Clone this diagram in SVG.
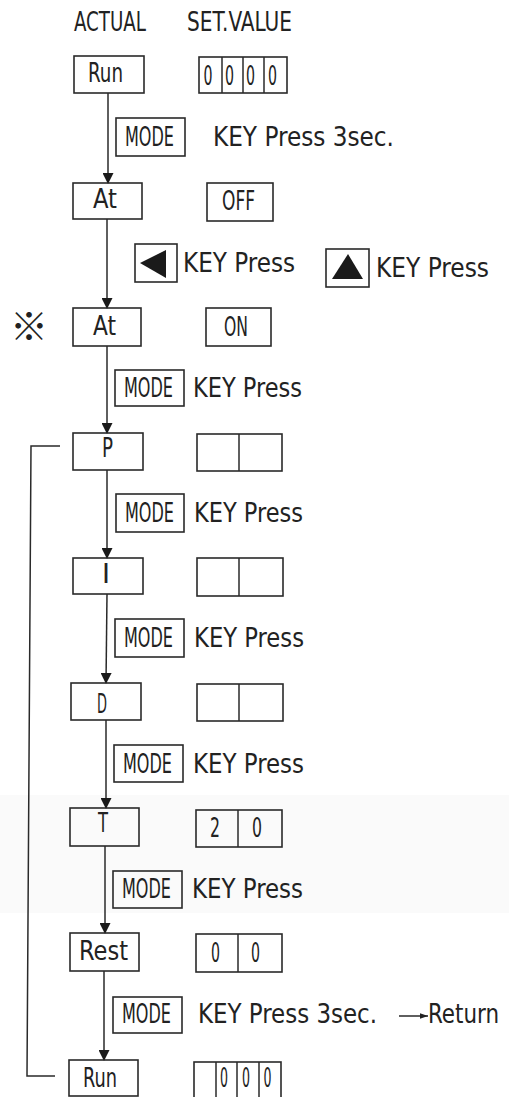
<svg xmlns="http://www.w3.org/2000/svg" width="509" height="1097" viewBox="0 0 509 1097">
<defs>
<style>
.bx{fill:none;stroke:#2a2a2a;stroke-width:1.6}
.ln{fill:none;stroke:#2a2a2a;stroke-width:1.5}
.t{font-family:"DejaVu Sans","Liberation Sans",sans-serif;font-stretch:condensed;font-size:26px;fill:#222}
.c{text-anchor:middle}
.tri{fill:#1a1a1a}
</style>
<marker id="ah" markerUnits="userSpaceOnUse" markerWidth="11" markerHeight="11" refX="10" refY="5.5" orient="auto">
<path d="M0,0 L11,5.5 L0,11 z" fill="#1a1a1a"/>
</marker>
<marker id="ahs" markerUnits="userSpaceOnUse" markerWidth="9" markerHeight="7" refX="8.5" refY="3.5" orient="auto">
<path d="M0,0.5 L8.5,3.5 L0,6.5 z" fill="#222"/>
</marker>
</defs>
<rect x="0" y="0" width="509" height="1097" fill="#ffffff"/>
<rect x="0" y="795" width="509" height="118" fill="#fafafa"/>

<g id="headers">
<text class="t" x="74" y="31" textLength="72" lengthAdjust="spacingAndGlyphs">ACTUAL</text>
<text class="t" x="187" y="31" textLength="105" lengthAdjust="spacingAndGlyphs">SET.VALUE</text>
</g>

<g id="connectors">
<line class="ln" x1="108" y1="93" x2="108" y2="183" marker-end="url(#ah)"/>
<line class="ln" x1="107" y1="219" x2="107" y2="308" marker-end="url(#ah)"/>
<line class="ln" x1="107" y1="346" x2="107" y2="433" marker-end="url(#ah)"/>
<line class="ln" x1="107" y1="470" x2="107" y2="558" marker-end="url(#ah)"/>
<line class="ln" x1="107" y1="594" x2="106" y2="683" marker-end="url(#ah)"/>
<line class="ln" x1="106" y1="720" x2="106" y2="808" marker-end="url(#ah)"/>
<line class="ln" x1="105" y1="846" x2="105" y2="933" marker-end="url(#ah)"/>
<line class="ln" x1="104" y1="971" x2="104" y2="1060" marker-end="url(#ah)"/>
<polyline class="ln" points="60,446 31,446 27,1076 55,1076"/>
<line class="ln" x1="399" y1="1016" x2="428" y2="1016" marker-end="url(#ahs)"/>
</g>

<g id="run1">
<rect class="bx" x="74" y="56" width="70" height="37"/>
<text class="t" x="88" y="82" textLength="35" lengthAdjust="spacingAndGlyphs">Run</text>
</g>
<g id="val-run1">
<rect class="bx" x="199" y="57" width="88" height="36"/>
<line class="ln" x1="222" y1="57" x2="222" y2="93"/>
<line class="ln" x1="243" y1="57" x2="243" y2="93"/>
<line class="ln" x1="264" y1="57" x2="264" y2="93"/>
<text class="t c" x="208" y="85" textLength="9" lengthAdjust="spacingAndGlyphs">0</text>
<text class="t c" x="229.5" y="85" textLength="9" lengthAdjust="spacingAndGlyphs">0</text>
<text class="t c" x="250.5" y="85" textLength="9" lengthAdjust="spacingAndGlyphs">0</text>
<text class="t c" x="272.5" y="85" textLength="9" lengthAdjust="spacingAndGlyphs">0</text>
</g>
<g id="key1">
<rect class="bx" x="116" y="118" width="69" height="38"/>
<text class="t" x="125" y="146" textLength="49" lengthAdjust="spacingAndGlyphs">MODE</text>
<text class="t" x="213" y="146" textLength="181" lengthAdjust="spacingAndGlyphs">KEY Press 3sec.</text>
</g>

<g id="at1">
<rect class="bx" x="73" y="183" width="69" height="36"/>
<text class="t" x="93" y="208" textLength="24" lengthAdjust="spacingAndGlyphs">At</text>
</g>
<g id="val-off">
<rect class="bx" x="207" y="183" width="66" height="38"/>
<text class="t" x="222" y="210" textLength="33" lengthAdjust="spacingAndGlyphs">OFF</text>
</g>
<g id="key-left">
<rect class="bx" x="135" y="244" width="42" height="38"/>
<polygon class="tri" points="140,263 166,250 166,278"/>
<text class="t" x="183" y="272" textLength="112" lengthAdjust="spacingAndGlyphs">KEY Press</text>
</g>
<g id="key-up">
<rect class="bx" x="326" y="249" width="43" height="38"/>
<polygon class="tri" points="332,279 363,279 348,254"/>
<text class="t" x="376" y="277" textLength="113" lengthAdjust="spacingAndGlyphs">KEY Press</text>
</g>

<g id="note">
<text x="29" y="340" text-anchor="middle" font-family="Noto Sans CJK JP, sans-serif" font-size="38" fill="#222">※</text>
</g>
<g id="at2">
<rect class="bx" x="73" y="308" width="68" height="38"/>
<text class="t" x="93" y="335" textLength="23" lengthAdjust="spacingAndGlyphs">At</text>
</g>
<g id="val-on">
<rect class="bx" x="206" y="308" width="65" height="38"/>
<text class="t" x="224" y="336" textLength="24" lengthAdjust="spacingAndGlyphs">ON</text>
</g>
<g id="key2">
<rect class="bx" x="115" y="370" width="69" height="36"/>
<text class="t" x="124" y="397" textLength="49" lengthAdjust="spacingAndGlyphs">MODE</text>
<text class="t" x="193" y="397" textLength="109" lengthAdjust="spacingAndGlyphs">KEY Press</text>
</g>

<g id="p">
<rect class="bx" x="73" y="433" width="70" height="37"/>
<text class="t c" x="107.5" y="457" textLength="11" lengthAdjust="spacingAndGlyphs">P</text>
</g>
<g id="val-p">
<rect class="bx" x="197" y="434" width="85" height="37"/>
<line class="ln" x1="239" y1="434" x2="239" y2="471"/>
</g>
<g id="key3">
<rect class="bx" x="116" y="494" width="68" height="38"/>
<text class="t" x="125" y="522" textLength="49" lengthAdjust="spacingAndGlyphs">MODE</text>
<text class="t" x="194" y="522" textLength="109" lengthAdjust="spacingAndGlyphs">KEY Press</text>
</g>

<g id="i">
<rect class="bx" x="73" y="558" width="70" height="36"/>
<text class="t c" x="106" y="583" textLength="8" lengthAdjust="spacingAndGlyphs">I</text>
</g>
<g id="val-i">
<rect class="bx" x="197" y="558" width="86" height="38"/>
<line class="ln" x1="239" y1="558" x2="239" y2="596"/>
</g>
<g id="key4">
<rect class="bx" x="115" y="619" width="69" height="38"/>
<text class="t" x="124" y="647" textLength="49" lengthAdjust="spacingAndGlyphs">MODE</text>
<text class="t" x="194" y="647" textLength="110" lengthAdjust="spacingAndGlyphs">KEY Press</text>
</g>

<g id="d">
<rect class="bx" x="71" y="683" width="70" height="37"/>
<text class="t c" x="102" y="713" textLength="10" lengthAdjust="spacingAndGlyphs">D</text>
</g>
<g id="val-d">
<rect class="bx" x="197" y="684" width="86" height="37"/>
<line class="ln" x1="239" y1="684" x2="239" y2="721"/>
</g>
<g id="key5">
<rect class="bx" x="114" y="745" width="69" height="37"/>
<text class="t" x="123" y="773" textLength="49" lengthAdjust="spacingAndGlyphs">MODE</text>
<text class="t" x="193" y="773" textLength="111" lengthAdjust="spacingAndGlyphs">KEY Press</text>
</g>

<g id="t">
<rect class="bx" x="70" y="808" width="69" height="38"/>
<text class="t c" x="103" y="832" textLength="10" lengthAdjust="spacingAndGlyphs">T</text>
</g>
<g id="val-t">
<rect class="bx" x="196" y="810" width="86" height="37"/>
<line class="ln" x1="238" y1="810" x2="238" y2="847"/>
<text class="t c" x="215" y="837" textLength="10" lengthAdjust="spacingAndGlyphs">2</text>
<text class="t c" x="257" y="837" textLength="10" lengthAdjust="spacingAndGlyphs">0</text>
</g>
<g id="key6">
<rect class="bx" x="113" y="871" width="69" height="37"/>
<text class="t" x="122" y="898" textLength="49" lengthAdjust="spacingAndGlyphs">MODE</text>
<text class="t" x="192" y="898" textLength="111" lengthAdjust="spacingAndGlyphs">KEY Press</text>
</g>

<g id="rest">
<rect class="bx" x="70" y="933" width="69" height="38"/>
<text class="t" x="79" y="960" textLength="49" lengthAdjust="spacingAndGlyphs">Rest</text>
</g>
<g id="val-rest">
<rect class="bx" x="196" y="934" width="86" height="38"/>
<line class="ln" x1="238" y1="934" x2="238" y2="972"/>
<text class="t c" x="215.5" y="962" textLength="9" lengthAdjust="spacingAndGlyphs">0</text>
<text class="t c" x="255.5" y="962" textLength="9" lengthAdjust="spacingAndGlyphs">0</text>
</g>
<g id="key7">
<rect class="bx" x="113" y="997" width="69" height="36"/>
<text class="t" x="122" y="1023" textLength="49" lengthAdjust="spacingAndGlyphs">MODE</text>
<text class="t" x="198" y="1023" textLength="179" lengthAdjust="spacingAndGlyphs">KEY Press 3sec.</text>
<text class="t" x="428" y="1023" textLength="71" lengthAdjust="spacingAndGlyphs">Return</text>
</g>

<g id="run2">
<rect class="bx" x="69" y="1060" width="69" height="36"/>
<text class="t" x="83" y="1087" textLength="34" lengthAdjust="spacingAndGlyphs">Run</text>
</g>
<g id="val-run2">
<rect class="bx" x="194" y="1062" width="87" height="36"/>
<line class="ln" x1="216" y1="1062" x2="216" y2="1097"/>
<line class="ln" x1="237" y1="1062" x2="237" y2="1097"/>
<line class="ln" x1="259" y1="1062" x2="259" y2="1097"/>
<text class="t c" x="224" y="1087" textLength="8" lengthAdjust="spacingAndGlyphs">0</text>
<text class="t c" x="246" y="1087" textLength="8" lengthAdjust="spacingAndGlyphs">0</text>
<text class="t c" x="267.5" y="1087" textLength="8" lengthAdjust="spacingAndGlyphs">0</text>
</g>
</svg>
